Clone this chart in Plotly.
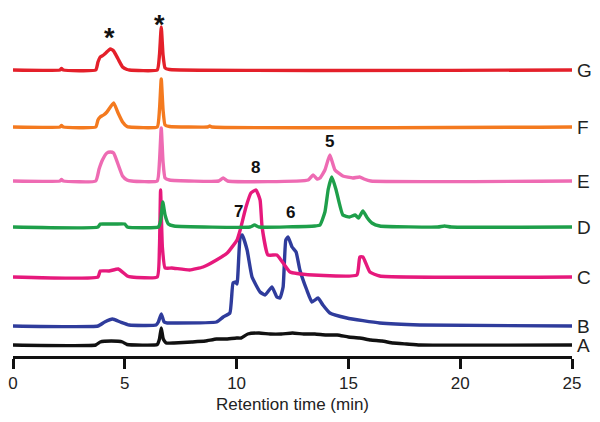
import plotly.graph_objects as go

# Chromatogram traces: retention time (min) and signal height (a.u.) above each trace's baseline
names = ["G", "F", "E", "D", "C", "B", "A"]
colors = ["#E4202A", "#F47A1F", "#EE6BB3", "#1E9F4A", "#E6197C", "#2F3C9C", "#111111"]
offsets = [286, 229, 175, 129, 79, 30, 11]

G_t = [0, 2.1, 2.17, 2.25, 3.7, 3.8, 3.9, 4.05, 4.15, 4.35, 4.5, 4.7, 4.9, 5.1, 5.2, 6.45, 6.55, 6.63, 6.71, 6.8, 7.0, 25]
G_h = [0, 0, 1.5, 0, 0, 8, 13, 15, 17, 21, 19, 11, 3, 0.5, 0, 0, 15, 43, 15, 2, 0.5, 0]

F_t = [0, 2.1, 2.17, 2.25, 3.7, 3.8, 3.9, 4.05, 4.2, 4.5, 4.7, 4.9, 5.1, 5.2, 6.45, 6.55, 6.63, 6.71, 6.8, 7.0, 8.7, 8.8, 8.9, 25]
F_h = [0, 0, 1.5, 0, 0, 7, 10, 12, 15, 24, 14, 5, 0.5, 0, 0, 17, 48, 17, 2, 0.5, 0, 1, 0, 0]

E_t = [0, 2.1, 2.17, 2.25, 3.7, 3.85, 4.0, 4.2, 4.35, 4.5, 4.71, 4.9, 5.1, 5.3, 6.45, 6.55, 6.63, 6.71, 6.8, 7.0, 9.2, 9.4, 9.6, 13.2, 13.42, 13.6, 13.73, 13.95, 14.17, 14.4, 14.75, 15.2, 15.5, 15.7, 16.0, 25]
E_h = [0, 0, 1.5, 0, 0, 12, 21, 28, 29, 28, 16, 5, 1, 0, 0, 19, 53, 19, 3, 1, 0, 3, 0, 1, 6, 2, 3, 11, 26, 11, 5, 3, 4, 2, 0, 0]

D_t = [0, 3.8, 3.9, 4.2, 4.6, 5.0, 5.11, 6.5, 6.6, 6.7, 6.8, 6.95, 7.2, 10.6, 10.8, 11.0, 13.5, 13.73, 13.95, 14.1, 14.26, 14.45, 14.75, 15.05, 15.3, 15.45, 15.65, 15.85, 16.05, 16.4, 19.0, 19.3, 19.6, 25]
D_h = [0, 0, 3, 3, 3, 3, 0, 0, 6, 25, 12, 3, 1, 0, 2, 0, 1, 2, 15, 38, 50, 37, 12, 10, 12, 9, 16, 9, 4, 1, 0, 1, 0, 0]

C_t = [0, 3.8, 3.9, 4.3, 4.71, 5.11, 5.3, 6.45, 6.55, 6.6, 6.68, 6.8, 7.1, 7.9, 8.5, 9.1, 9.58, 10.02, 10.16, 10.42, 10.64, 10.87, 11.05, 11.14, 11.4, 11.8, 12.08, 12.39, 13.42, 15.38, 15.51, 15.65, 15.96, 16.4, 25]
C_h = [0, 0, 6, 6, 8, 1, 0, 0, 30, 87, 30, 9, 9, 7, 10, 17, 24, 37, 47, 70, 84, 87, 77, 50, 22, 22, 14, 5, 2, 2, 20, 20, 5, 1, 0]

B_t = [0, 3.8, 4.1, 4.45, 4.8, 5.2, 6.4, 6.5, 6.63, 6.76, 6.9, 7.2, 9.1, 9.4, 9.7, 9.84, 9.95, 10.02, 10.16, 10.25, 10.47, 10.69, 11.05, 11.27, 11.58, 11.8, 11.94, 12.08, 12.2, 12.3, 12.48, 12.66, 12.83, 13.14, 13.37, 13.64, 13.86, 14.17, 14.93, 16.4, 18.2, 25]
B_h = [0, 0, 4, 7, 4, 1, 1, 4, 12, 4, 3, 3, 4, 9, 13, 43, 44, 42, 89, 91, 76, 49, 34, 31, 39, 29, 28, 39, 86, 89, 79, 74, 56, 36, 24, 28, 21, 13, 8, 3, 1, 0]

A_t = [0, 3.7, 3.9, 4.4, 4.9, 5.1, 6.45, 6.55, 6.63, 6.72, 6.85, 7.2, 8.0, 8.6, 9.1, 9.5, 10.0, 10.2, 10.5, 11.0, 11.5, 12.0, 12.5, 13.0, 13.5, 14.0, 14.5, 15.0, 15.5, 16.0, 16.5, 17.0, 17.6, 18.2, 25]
A_h = [0, 0, 3, 4, 3, 0.5, 0.5, 6, 17, 6, 2, 2, 3, 4, 6, 6, 7, 7, 11, 12, 11, 11, 12, 11, 11, 10, 10, 8, 7, 5, 4, 2, 1, 0, 0]

series_t = [G_t, F_t, E_t, D_t, C_t, B_t, A_t]
series_h = [G_h, F_h, E_h, D_h, C_h, B_h, A_h]

# Peak annotations: label and retention time
peak_labels = ["*", "*", "5", "8", "7", "6"]
peak_t = [4.31, 6.54, 14.17, 10.83, 10.07, 12.39]
peak_y = [335, 348, 215, 189, 145, 144]

xticks = [0, 5, 10, 15, 20, 25]

FONT = "Arial, 'Liberation Sans', sans-serif"

fig = go.Figure()
order = [6, 5, 4, 3, 2, 1, 0]
for i in order:
    fig.add_trace(go.Scatter(
        x=series_t[i],
        y=[offsets[i] + v for v in series_h[i]],
        mode="lines",
        line=dict(color=colors[i], width=3.4, shape="spline", smoothing=0.4),
        name=names[i],
        showlegend=False,
        hoverinfo="skip",
    ))

annotations = []
for i, n in enumerate(names):
    annotations.append(dict(
        x=25, y=offsets[i], xref="x", yref="y", text=n, showarrow=False,
        xanchor="left", yanchor="middle", xshift=3,
        font=dict(family=FONT, size=19, color="#222222"),
    ))
for lab, t, y in zip(peak_labels, peak_t, peak_y):
    star = lab == "*"
    annotations.append(dict(
        x=t, y=y, xref="x", yref="y", text="<b>%s</b>" % lab, showarrow=False,
        xanchor="center", yanchor=("top" if star else "middle"),
        font=dict(family=FONT, size=(27 if star else 17), color="#111111"),
    ))

# page has an 8px body margin, so the figure is sized to fit inside the window
fig.update_layout(
    width=592, height=414,
    margin=dict(l=4.5, r=27.5, t=0, b=66, pad=0),
    paper_bgcolor="white", plot_bgcolor="white",
    annotations=annotations,
    xaxis=dict(
        range=[0, 25], tickvals=xticks, ticktext=[str(v) for v in xticks],
        showline=True, linecolor="#111111", linewidth=3,
        ticks="outside", ticklen=10, tickwidth=3, tickcolor="#111111",
        showgrid=False, zeroline=False,
        tickfont=dict(family=FONT, size=17, color="#222222"),
        title=dict(text="Retention time (min)", font=dict(family=FONT, size=17, color="#222222"), standoff=6),
    ),
    yaxis=dict(range=[0, 348], visible=False, showgrid=False, zeroline=False),
)

fig.write_html("out.html")
